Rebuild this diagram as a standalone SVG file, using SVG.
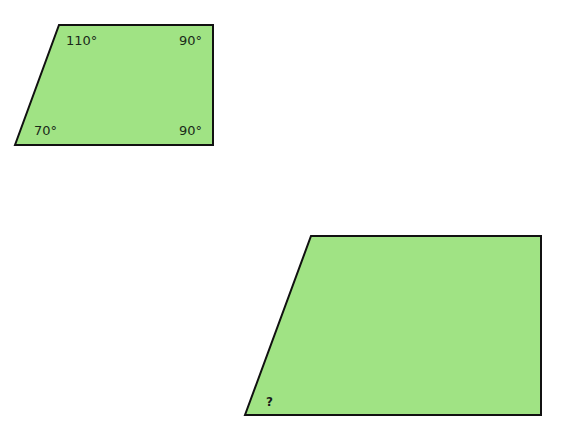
<svg xmlns="http://www.w3.org/2000/svg" width="561" height="438" viewBox="0 0 561 438">
<style>
.shape{fill:#a0e384;stroke:#111;stroke-width:2;stroke-linejoin:miter}
.lbl{font-family:"DejaVu Sans",Verdana,sans-serif;font-size:13px;fill:#1a2a1a}
.q{font-family:"DejaVu Sans",Verdana,sans-serif;font-size:12px;font-weight:bold;fill:#1a1a1a}
</style>
<rect width="561" height="438" fill="#ffffff"/>
<g id="small">
<polygon class="shape" points="59,25 213,25 213,145 15,145"/>
<text class="lbl" x="66" y="45">110°</text>
<text class="lbl" x="179" y="45">90°</text>
<text class="lbl" x="34" y="135">70°</text>
<text class="lbl" x="179" y="135">90°</text>
</g>
<g id="large">
<polygon class="shape" points="311,236 541,236 541,415 245,415"/>
<text class="q" x="266" y="406">?</text>
</g>
<g id="connectors"/>
</svg>
